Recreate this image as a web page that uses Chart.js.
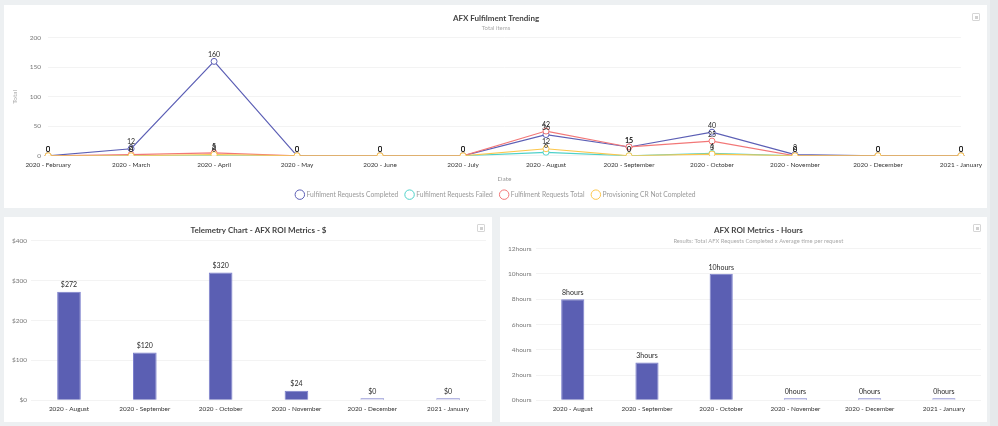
<!DOCTYPE html>
<html>
<head>
<meta charset="utf-8">
<script src="https://cdn.jsdelivr.net/npm/chart.js@4.4.1/dist/chart.umd.min.js"></script>
<style>
  html, body { margin: 0; padding: 0; }
  body { width: 998px; height: 426px; background: #edf0f2; position: relative; overflow: hidden; font-family: Lato, sans-serif; }
  .panel { position: absolute; background: #fff; }
  .panel canvas { display: block; }
  .menu { position: absolute; width: 6px; height: 6px; border: 1px solid #d6d6d6; border-radius: 1px; background: #fff; }
  .menu::after { content: ""; position: absolute; left: 1.5px; top: 1.5px; width: 3px; height: 3px; background: #d0d0d0; }
  #scroll { position: absolute; left: 990px; top: 0; width: 8px; height: 426px; background: #e6e9eb; }
</style>
</head>
<body>
<div id="scroll"></div>
<div class="panel" id="p1" style="left:4px;top:5px;width:983px;height:203px;"><canvas id="trend"></canvas></div>
<div class="panel" id="p2" style="left:4px;top:217px;width:488px;height:205px;"><canvas id="dollars"></canvas></div>
<div class="panel" id="p3" style="left:500px;top:217px;width:487px;height:205px;"><canvas id="hours"></canvas></div>
<div class="menu" style="left:972px;top:13px;"></div>
<div class="menu" style="left:477px;top:224px;"></div>
<div class="menu" style="left:973px;top:224px;"></div>

<script>
const trendMonths = ["2020 - February", "2020 - March", "2020 - April", "2020 - May", "2020 - June", "2020 - July",
  "2020 - August", "2020 - September", "2020 - October", "2020 - November", "2020 - December", "2021 - January"];
const requestsCompleted = [0, 12, 160, 0, 0, 0, 36, 15, 40, 2, 0, 0];
const requestsFailed = [0, 0, 0, 0, 0, 0, 6, 0, 4, 0, 0, 0];
const requestsTotal = [0, 2, 5, 0, 0, 0, 42, 15, 25, 0, 0, 0];
const provisioningNotCompleted = [0, 0, 2, 0, 0, 0, 12, 0, 3, 0, 0, 0];

const roiMonths = ["2020 - August", "2020 - September", "2020 - October", "2020 - November", "2020 - December", "2021 - January"];
const roiDollars = [272, 120, 320, 24, 0, 0];
const roiHours = [8, 3, 10, 0, 0, 0];

const trendTicks = [0, 50, 100, 150, 200];
const dollarTicks = [0, 100, 200, 300, 400];
const hourTicks = [0, 2, 4, 6, 8, 10, 12];

const FONT = "Lato";
const BAR = "#5b5fb3";
const BAR_EMPTY = "#c9cae9";

Chart.defaults.font.family = FONT;
Chart.defaults.animation = false;
Chart.defaults.responsive = true;
Chart.defaults.maintainAspectRatio = false;

// writes each value just above its point / bar
const valueLabels = {
  id: "valueLabels",
  afterDatasetsDraw(chart, args, opts) {
    const ctx = chart.ctx;
    ctx.save();
    ctx.font = `${opts.size || 8}px ${FONT}`;
    ctx.fillStyle = opts.color || "#333";
    ctx.textAlign = "center";
    ctx.textBaseline = "bottom";
    const fmt = opts.format || (v => String(v));
    chart.data.datasets.forEach((ds, i) => {
      const meta = chart.getDatasetMeta(i);
      if (meta.hidden) return;
      meta.data.forEach((el, j) => {
        ctx.fillText(fmt(ds.data[j]), el.x, el.y - (opts.offset || 4));
      });
    });
    ctx.restore();
  }
};

const lineSet = (label, data, color, order) => ({
  label, data, order,
  borderColor: color,
  backgroundColor: "#fff",
  pointBackgroundColor: "#fff",
  pointBorderColor: color,
  pointRadius: 3,
  pointBorderWidth: 1,
  borderWidth: 1.2,
  tension: 0,
  fill: false
});

new Chart(document.getElementById("trend"), {
  type: "line",
  data: {
    labels: trendMonths,
    datasets: [
      lineSet("Fulfilment Requests Completed", requestsCompleted, "#5c5fb5", 3),
      lineSet("Fulfilment Requests Failed", requestsFailed, "#4fd1c9", 2),
      lineSet("Fulfilment Requests Total", requestsTotal, "#f27777", 1),
      lineSet("Provisioning CR Not Completed", provisioningNotCompleted, "#fcc74d", 0)
    ]
  },
  options: {
    layout: { padding: { left: 3, right: 2, top: 9, bottom: 0 } },
    plugins: {
      title: { display: true, text: "AFX Fulfilment Trending", color: "#444", font: { size: 8, weight: "bold" }, padding: { top: 0, bottom: 1 } },
      subtitle: { display: true, text: "Total items", color: "#aaa", font: { size: 6 }, padding: { bottom: 6 } },
      legend: {
        position: "bottom",
        labels: {
          usePointStyle: true, boxWidth: 8, boxHeight: 8, color: "#999", font: { size: 6.7 }, padding: 8,
          sort: (a, b) => a.datasetIndex - b.datasetIndex
        }
      },
      tooltip: { enabled: false },
      valueLabels: { size: 7, color: "#2a2a2a", offset: 3 }
    },
    scales: {
      x: {
        grid: { display: false, drawTicks: false },
        border: { display: false },
        ticks: { color: "#333", font: { size: 6.4 }, maxRotation: 0, autoSkip: false, padding: 5 },
        title: { display: true, text: "Date", color: "#999", font: { size: 6.5 }, padding: { top: 2, bottom: 0 } }
      },
      y: {
        min: 0, max: 200,
        afterBuildTicks: ax => { ax.ticks = trendTicks.map(v => ({ value: v })); },
        grid: { color: "#f3f3f3", drawTicks: false },
        border: { display: false },
        ticks: { color: "#777", font: { size: 6.5 }, padding: 7 },
        title: { display: true, text: "Total", color: "#aaa", font: { size: 6.5 } }
      }
    }
  },
  plugins: [valueLabels]
});

const barOptions = (title, subtitle, ticks, max, fmt) => ({
  layout: { padding: { left: 4, right: 6, top: 9, bottom: 4 } },
  plugins: {
    title: { display: true, fullSize: false, text: title, color: "#444", font: { size: 8, weight: "bold" }, padding: { top: 0, bottom: subtitle ? 2 : 5 } },
    subtitle: { display: !!subtitle, fullSize: false, text: subtitle || "", color: "#aaa", font: { size: 5.8 }, padding: { bottom: 4 } },
    legend: { display: false },
    tooltip: { enabled: false },
    valueLabels: { size: 7, color: "#2a2a2a", offset: 3, format: fmt }
  },
  scales: {
    x: {
      grid: { display: false, drawTicks: false },
      border: { display: false },
      ticks: { color: "#333", font: { size: 6.4 }, maxRotation: 0, autoSkip: false, padding: 5 }
    },
    y: {
      min: 0, max,
      afterBuildTicks: ax => { ax.ticks = ticks.map(v => ({ value: v })); },
      grid: { color: "#f3f3f3", drawTicks: false },
      border: { display: false },
      ticks: { color: "#777", font: { size: 6.5 }, padding: 4, callback: v => fmt(v) }
    }
  }
});

const barSet = (data) => ({
  data,
  backgroundColor: data.map(v => v === 0 ? BAR_EMPTY : BAR),
  borderColor: "#7c80cc",
  borderWidth: 1,
  minBarLength: 2,
  barPercentage: 0.6,
  categoryPercentage: 0.52
});

new Chart(document.getElementById("dollars"), {
  type: "bar",
  data: { labels: roiMonths, datasets: [barSet(roiDollars)] },
  options: barOptions("Telemetry Chart - AFX ROI Metrics - $", null, dollarTicks, 400, v => "$" + v),
  plugins: [valueLabels]
});

new Chart(document.getElementById("hours"), {
  type: "bar",
  data: { labels: roiMonths, datasets: [barSet(roiHours)] },
  options: barOptions("AFX ROI Metrics - Hours", "Results: Total AFX Requests Completed x Average time per request", hourTicks, 12, v => v + "hours"),
  plugins: [valueLabels]
});
</script>
</body>
</html>
